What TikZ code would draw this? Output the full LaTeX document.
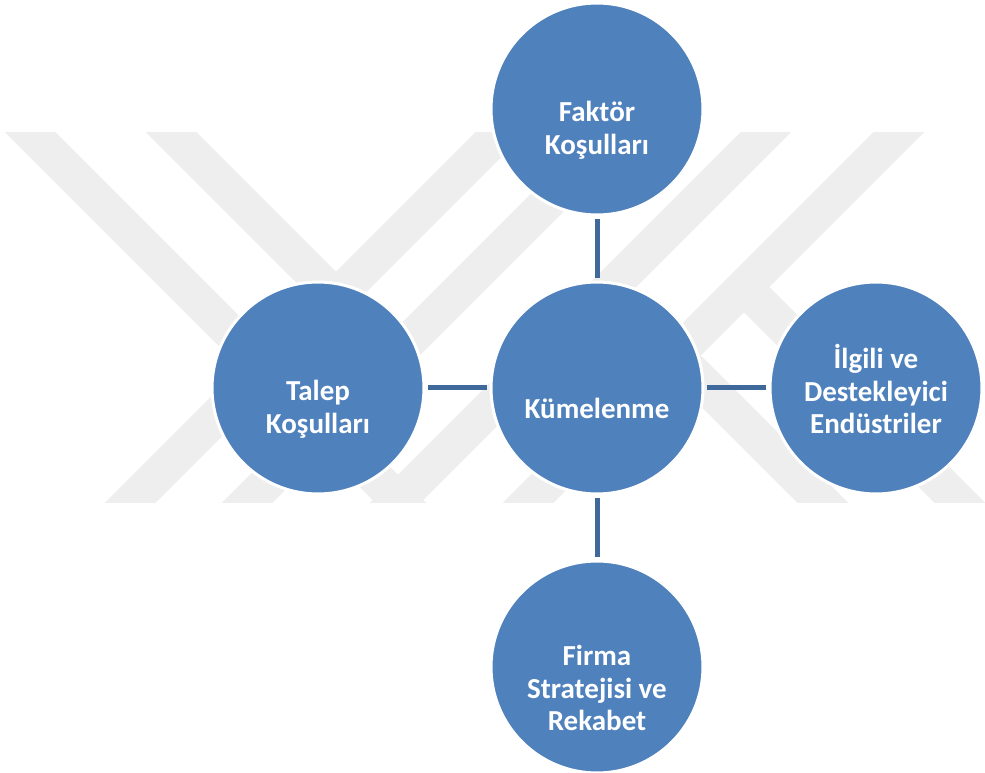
\documentclass[tikz,border=0pt]{standalone}
\usepackage{fontspec}
\setmainfont{Carlito}
\usepackage{tikz}
\usepackage{color}
\definecolor{smartblue}{HTML}{4F81BD}
\definecolor{linkblue}{HTML}{40699B}
\definecolor{markgray}{HTML}{EEEEEE}

\begin{document}
\begin{tikzpicture}[
x=0.02cm, y=-0.02cm,
bluecircle/.style={circle, draw=white, fill=smartblue, line width=0.06cm, minimum size=4.24cm, inner sep=0pt},
bluetext/.style={text=white, font=\fontsize{16.5}{18.6}\selectfont\bfseries, align=center},
linkline/.style={draw=linkblue, line width=0.1cm, shorten <=0.06cm, shorten >=0.06cm},
markband/.style={draw=markgray, line width=0.72cm},
]
\useasboundingbox (0,0) rectangle (985,773);

%Watermark
\begin{scope}
\clip (0,133) rectangle (985,503);
\draw[markband] (-20,82) -- (450,552);
\draw[markband] (815,83) -- (349,549);
\draw[markband] (122,83) -- (336,297);
\draw[markband] (550,83) -- (80,553);
\draw[markband] (667,83) -- (197,553);
\draw[markband] (948,83) -- (478,553);
\draw[markband] (744,287) -- (1010,553);
\draw[markband] (609,289) -- (873,553);
\end{scope}

%Nodes
\node[bluecircle]  at (597,109)    (circle_faktor)   [] {};
\node[bluetext]    at (597,130)    (text_faktor)     [] {Faktör\\Koşulları};

\node[bluecircle]  at (318,388)    (circle_talep)    [] {};
\node[bluetext]    at (318,409)    (text_talep)      [] {Talep\\Koşulları};

\node[bluecircle]  at (597,388)    (circle_kume)     [] {};
\node[bluetext]    at (597,408)    (text_kume)       [] {Kümelenme};

\node[bluecircle]  at (876,388)    (circle_ilgili)   [] {};
\node[bluetext]    at (876,389)    (text_ilgili)     [] {İlgili ve\\Destekleyici\\Endüstriler};

\node[bluecircle]  at (597,667)    (circle_firma)    [] {};
\node[bluetext]    at (597,688)    (text_firma)      [] {Firma\\Stratejisi ve\\Rekabet};

%Lines
\draw[linkline] (circle_faktor.south) -- (circle_kume.north);
\draw[linkline] (circle_talep.east) -- (circle_kume.west);
\draw[linkline] (circle_kume.east) -- (circle_ilgili.west);
\draw[linkline] (circle_kume.south) -- (circle_firma.north);

\end{tikzpicture}
\end{document}
